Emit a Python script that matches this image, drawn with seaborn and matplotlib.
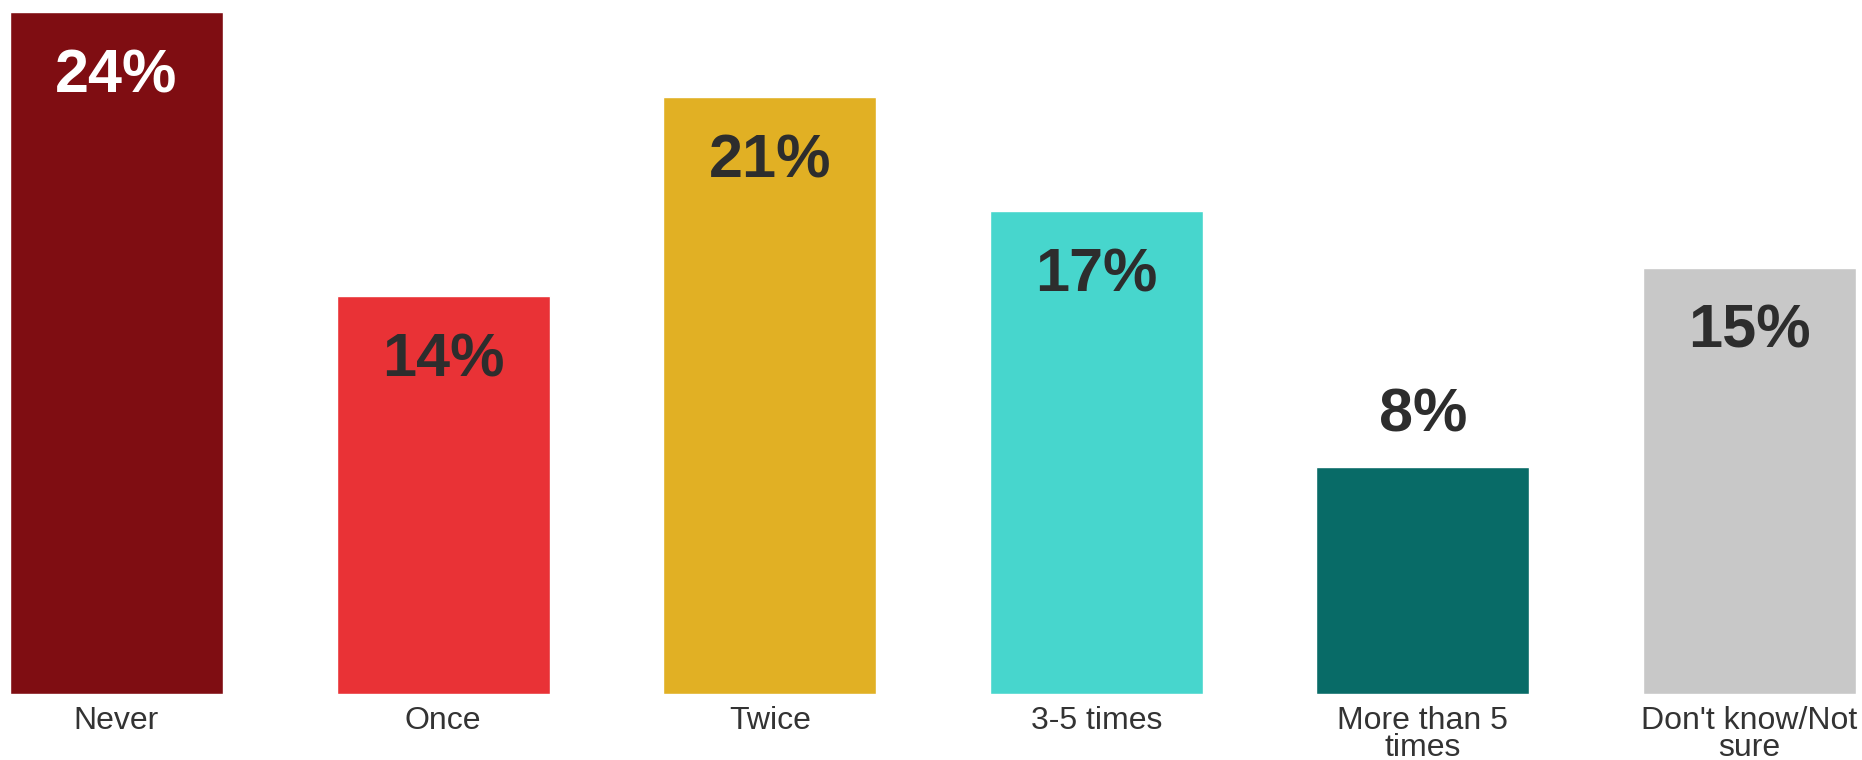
import matplotlib
matplotlib.use("Agg")
import matplotlib.pyplot as plt
import pandas as pd
import seaborn as sns

categories = ["Never", "Once", "Twice", "3-5 times", "More than 5\ntimes", "Don't know/Not\nsure"]
values = [24, 14, 21, 17, 8, 15]
colors = ["#7f0d12", "#e93236", "#e1b024", "#47d6cd", "#086b67", "#c8c8c8"]
label_colors = ["white", "#2d2d2d", "#2d2d2d", "#2d2d2d", "#2d2d2d", "#2d2d2d"]

sns.set_theme(style="white")
plt.rcParams["font.family"] = ["Liberation Sans", "DejaVu Sans"]

df = pd.DataFrame({"category": categories, "value": values})

fig = plt.figure(figsize=(18.62, 7.60), dpi=100)
ax = fig.add_axes([10 / 1862, 66 / 760, 1846 / 1862, 682 / 760])

bar_w = 0.652
sns.barplot(data=df, x="category", y="value", hue="category", palette=colors,
            width=bar_w, legend=False, saturation=1, ax=ax)

ax.set_xlim(-bar_w / 2, len(categories) - 1 + bar_w / 2)
ax.set_ylim(0, max(values))
sns.despine(ax=ax, left=True, bottom=True)
ax.set_yticks([])
ax.set_xlabel("")
ax.set_ylabel("")
ax.tick_params(axis="x", length=0, pad=8.5, labelsize=23, colors="#333333")
for lbl in ax.get_xticklabels():
    lbl.set_linespacing(0.86)
    lbl.set_verticalalignment("top")

for i, v in enumerate(values):
    if v < 10:
        ax.annotate(f"{v}%", (i, v), xytext=(0, 25), textcoords="offset points",
                    ha="center", va="baseline", fontsize=44, fontweight="bold",
                    color="#2d2d2d")
    else:
        ax.annotate(f"{v}%", (i, v), xytext=(0, -26), textcoords="offset points",
                    ha="center", va="top", fontsize=44, fontweight="bold",
                    color=label_colors[i])

fig.savefig("out.png", dpi=100)
